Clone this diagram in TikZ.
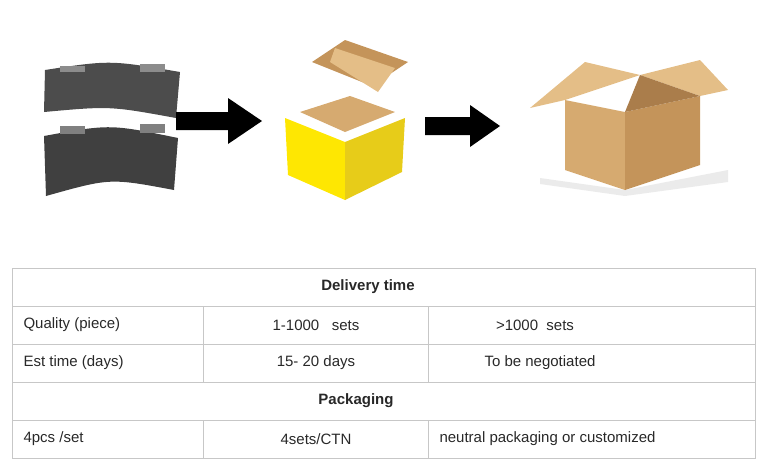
\documentclass[tikz,border=0pt]{standalone}
\usepackage{fontspec}
\setmainfont{Liberation Sans}
\definecolor{txt}{RGB}{40,40,40}
\definecolor{cb1}{RGB}{214,170,112}
\definecolor{cb2}{RGB}{196,148,90}
\definecolor{cb3}{RGB}{228,190,135}
\definecolor{cb4}{RGB}{170,125,75}
\begin{document}
\begin{tikzpicture}[x=1pt,y=-1pt,
  cell/.style={font=\fontsize{15}{18}\selectfont, text=txt, anchor=center},
  lcell/.style={font=\fontsize{15}{18}\selectfont, text=txt, anchor=west},
  grid/.style={draw=black!22, line width=0.8pt},
  blk/.style={fill=black}]
\useasboundingbox (0,0) rectangle (771,469);
% brake pads
\fill[black!70] (45,70) .. controls (110,60) .. (180,72) -- (176,118) .. controls (110,106) .. (44,112) -- cycle;
\fill[black!45] (60,66) rectangle (85,72);\fill[black!45] (140,64) rectangle (165,72);
\fill[black!75] (44,136) .. controls (110,124) .. (178,138) -- (174,190) .. controls (110,178) .. (46,196) -- cycle;
\fill[black!50] (60,126) rectangle (85,134);\fill[black!50] (140,124) rectangle (165,133);
% arrow 1
\fill[blk] (176,112) -- (228,112) -- (228,98) -- (262,121) -- (228,144) -- (228,130) -- (176,130) -- cycle;
% yellow box
\fill[cb2] (312,62) -- (345,40) -- (408,62) -- (372,86) -- cycle;
\fill[cb3] (330,62) -- (335,48) -- (395,68) -- (378,92) -- cycle;
\fill[yellow!90!orange] (285,118) -- (345,142) -- (345,200) -- (288,175) -- cycle;
\fill[yellow!80!orange!90!black] (345,142) -- (405,118) -- (402,172) -- (345,200) -- cycle;
\fill[cb1] (300,112) -- (345,132) -- (395,112) -- (350,96) -- cycle;
% arrow 2
\fill[blk] (425,117) -- (470,117) -- (470,105) -- (500,126) -- (470,147) -- (470,135) -- (425,135) -- cycle;
% cardboard box
\fill[black!8] (540,178) -- (625,190) -- (728,170) -- (728,182) -- (625,196) -- (540,184) -- cycle;
\fill[cb1] (565,100) -- (625,112) -- (625,190) -- (565,170) -- cycle;
\fill[cb2] (625,112) -- (700,96) -- (700,165) -- (625,190) -- cycle;
\fill[cb3] (565,100) -- (530,108) -- (585,62) -- (640,75) -- cycle;
\fill[cb3] (640,75) -- (700,60) -- (728,90) -- (700,96) -- cycle;
\fill[cb4] (625,112) -- (640,75) -- (700,96) -- cycle;
% table
\draw[grid] (12,268) rectangle (755,458);
\foreach \y in {306,344,382,420} \draw[grid] (12,\y) -- (755,\y);
\foreach \x in {203,428} {\draw[grid] (\x,306) -- (\x,382); \draw[grid] (\x,420) -- (\x,458);}
\node[cell,font=\fontsize{15}{18}\selectfont\bfseries] (h1) at (368,287) {Delivery time};
\node[lcell] (a1) at (20,325) {Quality (piece)};
\node[cell] (a2) at (316,325) {1-1000\ \ \ sets};
\node[cell] (a3) at (535,325) {>1000\ \ sets};
\node[lcell] (b1) at (20,363) {Est time (days)};
\node[cell] (b2) at (316,363) {15- 20 days};
\node[cell] (b3) at (540,363) {To be negotiated};
\node[cell,font=\fontsize{15}{18}\selectfont\bfseries] (h2) at (356,401) {Packaging};
\node[lcell] (c1) at (20,439) {4pcs /set};
\node[cell] (c2) at (316,439) {4sets/CTN};
\node[lcell] (c3) at (436,439) {neutral packaging or customized};
\end{tikzpicture}
\end{document}
